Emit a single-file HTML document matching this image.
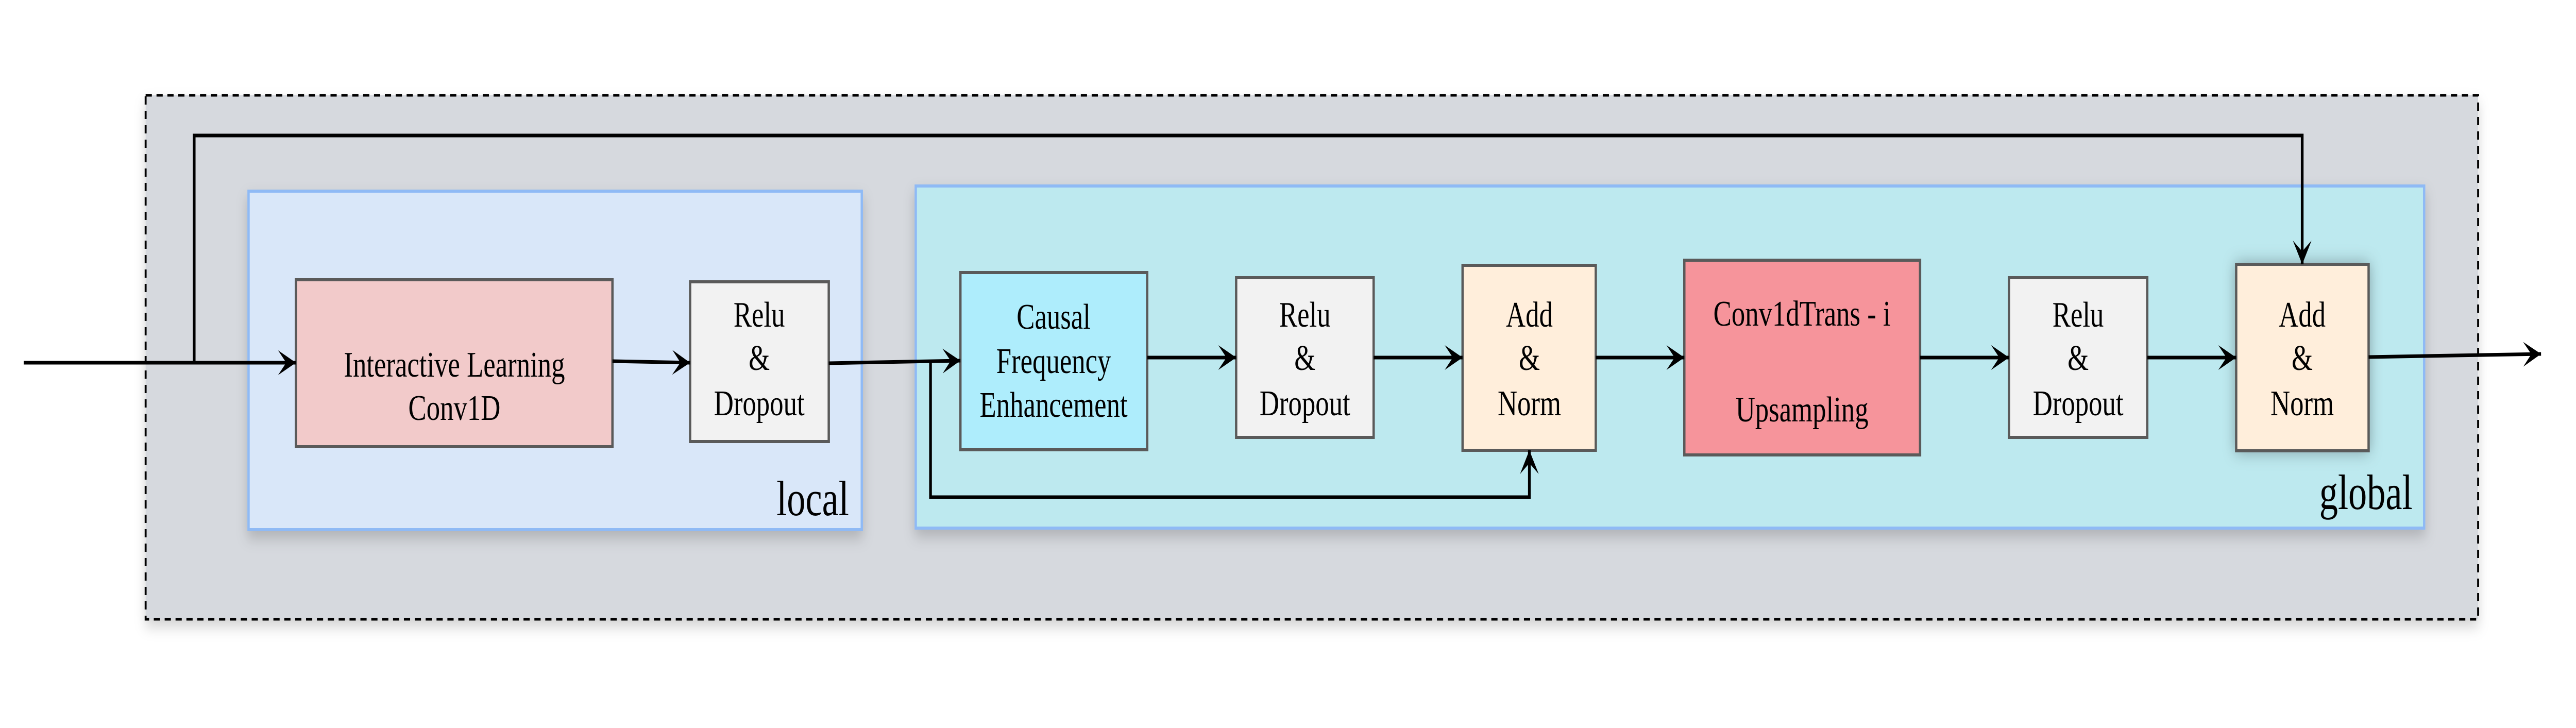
<!DOCTYPE html>
<html><head><meta charset="utf-8"><style>html,body{margin:0;padding:0;background:#fff;overflow:hidden;}svg{display:block;width:100vw;height:100vh}</style></head>
<body>
<svg viewBox="0 0 6633 1413" preserveAspectRatio="none" xmlns="http://www.w3.org/2000/svg" font-family="'Liberation Serif', serif">
<defs>
<filter id="sh" x="-10%" y="-10%" width="120%" height="130%"><feDropShadow dx="0" dy="14" stdDeviation="14" flood-color="#000" flood-opacity="0.18"/></filter>
<filter id="sh2" x="-20%" y="-20%" width="140%" height="140%"><feDropShadow dx="0" dy="0" stdDeviation="16" flood-color="#000" flood-opacity="0.3"/></filter>
<marker id="ar" viewBox="0 0 46 48" refX="46" refY="24" markerWidth="46" markerHeight="48" markerUnits="userSpaceOnUse" orient="auto">
<path d="M0,0 L46,24 L0,48 L21,24 Z" fill="#000"/>
</marker>
</defs>
<rect x="375" y="185" width="6006" height="1017" fill="#d6d9de" filter="url(#sh)"/>
<rect x="375" y="185" width="6006" height="1017" fill="none" stroke="#000" stroke-width="5" stroke-dasharray="16,12"/>
<rect x="640" y="371" width="1579" height="657" fill="#d9e7f9" stroke="#8fbaf5" stroke-width="6" filter="url(#sh)"/>
<text x="2186" y="1000" font-size="96" text-anchor="end">local</text>
<rect x="2358" y="361" width="3884" height="664" fill="#bde9ef" stroke="#8fbaf5" stroke-width="6" filter="url(#sh)"/>
<text x="6212" y="988" font-size="96" text-anchor="end">global</text>
<g stroke="#5a5a5a" stroke-width="6">
<rect x="762" y="543" width="815" height="324" fill="#f2caca"/>
<rect x="1777" y="547" width="357" height="310" fill="#f2f2f2"/>
<rect x="2473" y="529" width="481" height="344" fill="#aeedfc"/>
<rect x="3183" y="539" width="354" height="310" fill="#f2f2f2"/>
<rect x="3766" y="515" width="343" height="359" fill="#ffeedb"/>
<rect x="4337" y="505" width="607" height="378" fill="#f6949b"/>
<rect x="5173" y="539" width="356" height="310" fill="#f2f2f2"/>
<rect x="5758" y="513" width="341" height="362" fill="#ffeedb" filter="url(#sh2)"/>
</g>
<g font-size="70" text-anchor="middle" fill="#000">
<text x="1170" y="731">Interactive Learning</text>
<text x="1170" y="815">Conv1D</text>
<text x="1955" y="634">Relu</text><text x="1955" y="718">&amp;</text><text x="1955" y="806">Dropout</text>
<text x="2713" y="638">Causal</text><text x="2713" y="724">Frequency</text><text x="2713" y="809">Enhancement</text>
<text x="3360" y="634">Relu</text><text x="3360" y="718">&amp;</text><text x="3360" y="806">Dropout</text>
<text x="3938" y="634">Add</text><text x="3938" y="718">&amp;</text><text x="3938" y="806">Norm</text>
<text x="4640" y="632">Conv1dTrans - i</text><text x="4640" y="818">Upsampling</text>
<text x="5351" y="634">Relu</text><text x="5351" y="718">&amp;</text><text x="5351" y="806">Dropout</text>
<text x="5928" y="634">Add</text><text x="5928" y="718">&amp;</text><text x="5928" y="806">Norm</text>
</g>
<g stroke="#000" stroke-width="7" fill="none">
<line x1="61" y1="704" x2="762" y2="704" marker-end="url(#ar)"/>
<line x1="1577" y1="701" x2="1777" y2="704" marker-end="url(#ar)"/>
<line x1="2134" y1="705" x2="2473" y2="700" marker-end="url(#ar)"/>
<line x1="2954" y1="694" x2="3183" y2="694" marker-end="url(#ar)"/>
<line x1="3537" y1="694" x2="3766" y2="694" marker-end="url(#ar)"/>
<line x1="4109" y1="694" x2="4337" y2="694" marker-end="url(#ar)"/>
<line x1="4944" y1="694" x2="5173" y2="694" marker-end="url(#ar)"/>
<line x1="5529" y1="694" x2="5758" y2="694" marker-end="url(#ar)"/>
<line x1="6099" y1="693" x2="6543" y2="687" marker-end="url(#ar)"/>
<polyline points="2396,702 2396,965 3938,965 3938,874" marker-end="url(#ar)"/>
<polyline points="500,704 500,263 5928,263 5928,513" marker-end="url(#ar)"/>
</g>
</svg>
</body></html>
